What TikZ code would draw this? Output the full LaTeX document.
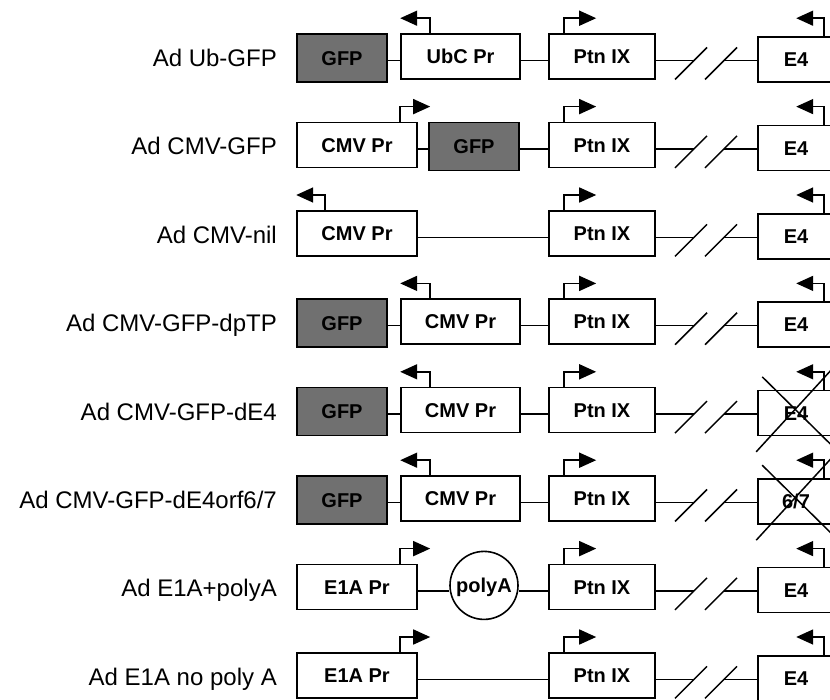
\documentclass[tikz,border=0pt]{standalone}
\usepackage{fontspec}
\setmainfont{Liberation Sans}
\usetikzlibrary{arrows.meta}
\definecolor{gfpgray}{RGB}{112,112,112}
\begin{document}
\begin{tikzpicture}[x=1pt,y=-1pt,
  box/.style={draw, line width=1.6pt, inner sep=0pt, fill=white,
    font=\fontsize{20}{22}\selectfont\bfseries, text height=14.3pt, text depth=0pt},
  gfpbox/.style={box, fill=gfpgray, minimum width=90, minimum height=48},
  prbox/.style={box, minimum width=119, minimum height=45},
  ptnbox/.style={box, minimum width=106, minimum height=45},
  e4box/.style={box, minimum width=76, minimum height=45},
  pabox/.style={box, circle, minimum size=68},
  wire/.style={line width=1.5pt},
  prom/.style={line width=1.6pt, -{Triangle[length=17pt,width=15pt]}},
  lab/.style={anchor=base east, inner sep=0pt, font=\fontsize{24}{26}\selectfont}]
\useasboundingbox (0,0) rectangle (830,699);
\clip (0,0) rectangle (830,699);

% common parts of every row
\foreach \i/\T in {1/34,2/122.4,3/210.8,4/299.2,5/387.6,6/476,7/564.4,8/652.8}{
  \coordinate (r\i) at (0,\T+26.5);
  \coordinate (sa\i) at (694,\T+26.5);
  \coordinate (sb\i) at (724,\T+26.5);
  \node[ptnbox] (ptn\i) at (602,\T+22.5) {Ptn IX};
  \draw[prom] ([xshift=16pt]ptn\i.north west) -- ++(0,-15) -- ++(32,0);
  \draw[wire] (ptn\i.east |- r\i) -- (sa\i);
  \draw[wire] (sa\i) ++(-19,19) -- ++(32,-32);
  \draw[wire] (sb\i) ++(-19,19) -- ++(32,-32);
}

% E4 boxes
\foreach \i/\T/\txt in {1/34/E4,2/122.4/E4,3/210.8/E4,4/299.2/E4,5/387.6/E4,6/476/{6/7},7/564.4/E4,8/652.8/E4}{
  \node[e4box] (e\i) at (796,\T+25.5) {\txt};
  \draw[prom] ([xshift=67pt]e\i.north west) -- ++(0,-18) -- ++(-28,0);
  \draw[wire] (sb\i) -- (e\i.west |- r\i);
}

% deletions
\foreach \i in {5,6}{
  \draw[wire] (e\i.north west) ++(5,-13) -- ++(72,71);
  \draw[wire] (e\i.north west) ++(-1,62) -- ++(77,-84);
}

% labels
\node[lab] (l1) at (277,66.5) {Ad Ub-GFP};
\node[lab] (l2) at (277,154.9) {Ad CMV-GFP};
\node[lab] (l3) at (277,243.3) {Ad CMV-nil};
\node[lab] (l4) at (277,331.7) {Ad CMV-GFP-dpTP};
\node[lab] (l5) at (277,420.1) {Ad CMV-GFP-dE4};
\node[lab] (l6) at (277,508.5) {Ad CMV-GFP-dE4orf6/7};
\node[lab] (l7) at (277,596.9) {Ad E1A+polyA};
\node[lab] (l8) at (277,685.3) {Ad E1A no poly A};

% row 1
\node[gfpbox] (g1) at (342,58) {GFP};
\node[prbox] (p1) at (460.5,56.5) {UbC Pr};
\draw[prom] ([xshift=30pt]p1.north west) -- ++(0,-15) -- ++(-30,0);
\draw[wire] (g1.east |- r1) -- (p1.west |- r1);
\draw[wire] (p1.east |- r1) -- (ptn1.west |- r1);

% row 2
\node[prbox, minimum width=120] (p2) at (357,144.9) {CMV Pr};
\draw[prom] ([xshift=104pt]p2.north west) -- ++(0,-15) -- ++(30,0);
\node[gfpbox] (g2) at (474,146.4) {GFP};
\draw[wire] (p2.east |- r2) -- (g2.west |- r2);
\draw[wire] (g2.east |- r2) -- (ptn2.west |- r2);

% row 3
\node[prbox, minimum width=120] (p3) at (357,233.3) {CMV Pr};
\draw[prom] ([xshift=29pt]p3.north west) -- ++(0,-15) -- ++(-29,0);
\draw[wire] (p3.east |- r3) -- (ptn3.west |- r3);

% rows 4-6
\foreach \i/\T in {4/299.2,5/387.6,6/476}{
  \node[gfpbox] (g\i) at (342,\T+24) {GFP};
  \node[prbox] (p\i) at (460.5,\T+22.5) {CMV Pr};
  \draw[prom] ([xshift=30pt]p\i.north west) -- ++(0,-15) -- ++(-30,0);
  \draw[wire] (g\i.east |- r\i) -- (p\i.west |- r\i);
  \draw[wire] (p\i.east |- r\i) -- (ptn\i.west |- r\i);
}

% row 7
\node[prbox, minimum width=120] (p7) at (357,586.9) {E1A Pr};
\draw[prom] ([xshift=104pt]p7.north west) -- ++(0,-15) -- ++(30,0);
\node[pabox] (pa7) at (484,585.4) {polyA};
\draw[wire] (p7.east |- r7) -- (pa7.west |- r7);
\draw[wire] (pa7.east |- r7) -- (ptn7.west |- r7);

% row 8
\node[prbox, minimum width=120] (p8) at (357,675.3) {E1A Pr};
\draw[prom] ([xshift=104pt]p8.north west) -- ++(0,-15) -- ++(30,0);
\draw[wire] (p8.east |- r8) -- (ptn8.west |- r8);
\end{tikzpicture}
\end{document}
